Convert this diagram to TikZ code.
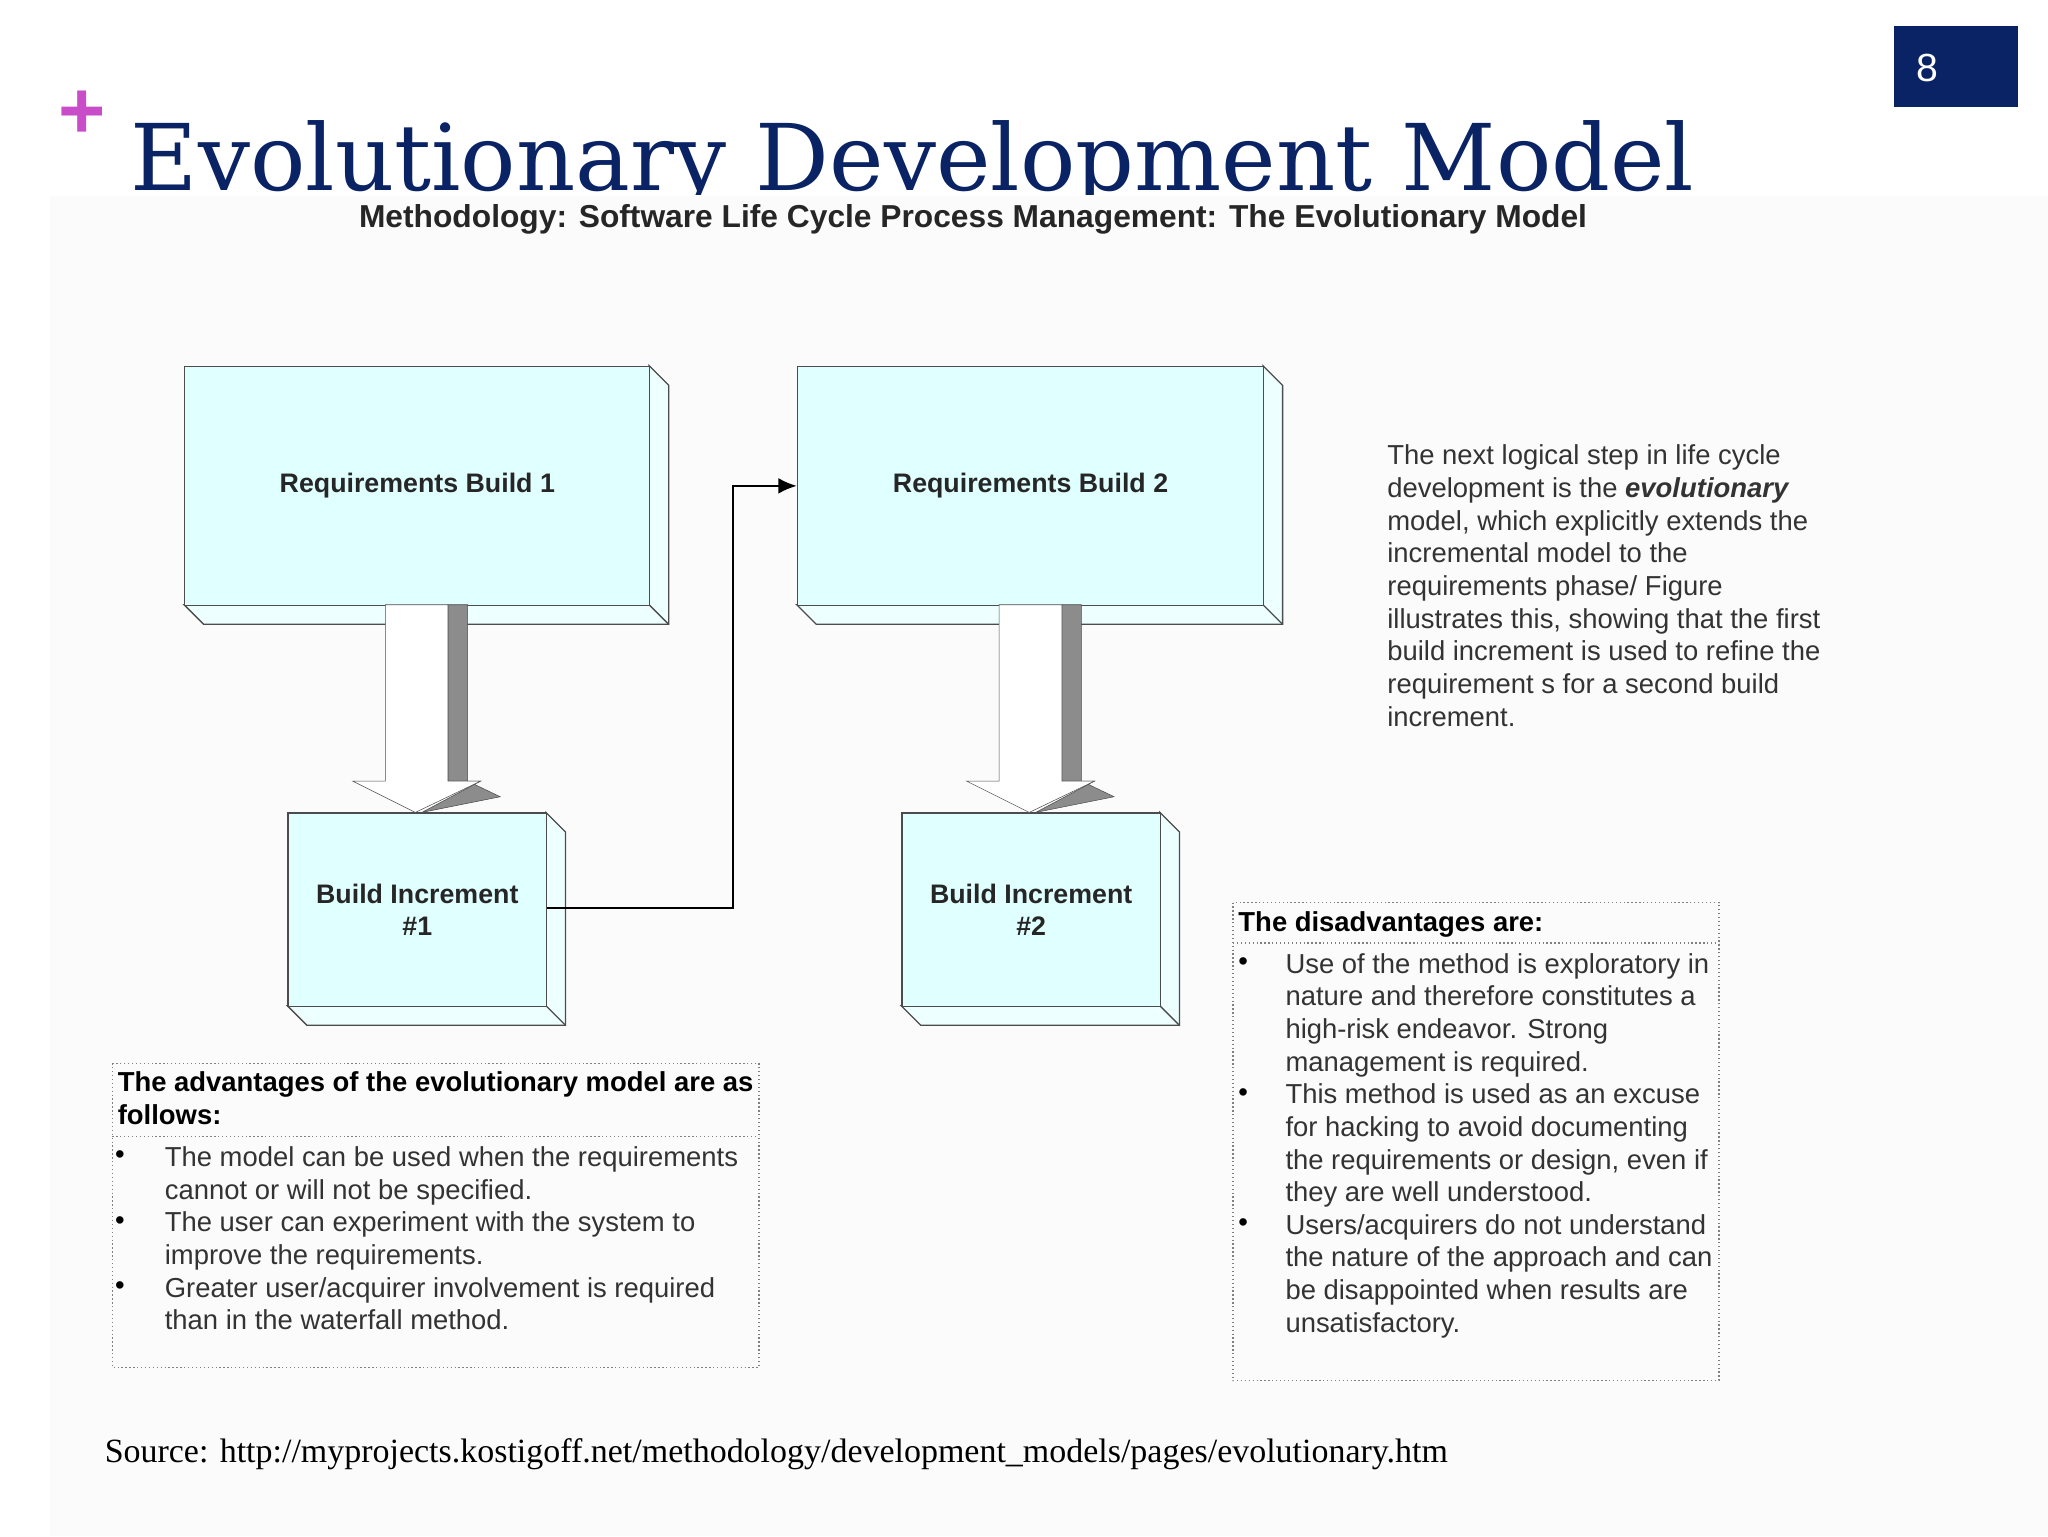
\documentclass[tikz,border=0pt]{standalone}
\usepackage{fontspec}
\usetikzlibrary{arrows.meta}
\setmainfont{Liberation Serif}
\newfontfamily\sans{Liberation Sans}
\newfontfamily\ttl{DejaVu Serif}
\definecolor{boxc}{RGB}{224,255,255}
\definecolor{sidec}{RGB}{238,255,255}
\definecolor{navy}{RGB}{10,35,100}
\begin{document}
\begin{tikzpicture}[x=1pt,y=-1pt,
  box/.style={draw=black!70,fill=boxc,line width=1pt},
  side/.style={draw=black!70,fill=sidec,line width=1pt},
  lbl/.style={font=\sans\bfseries\fontsize{20.5}{25}\selectfont,align=center,text=black!85},
  body/.style={font=\sans\fontsize{21}{25}\selectfont,text=black!80,anchor=base west,inner sep=0},
  dotbox/.style={draw=black!50,dotted,line width=1pt}]
\useasboundingbox (0,0) rectangle (1568,1176);
\fill[white] (0,0) rectangle (1568,1176);
\fill[black!1.5] (38,150) rectangle (1568,1176);
% page number
\fill[navy] (1450,20) rectangle (1545,82);
\node[text=white,font=\sans\fontsize{30}{30}\selectfont] (pg) at (1476,52) {8};
\node[text=violet!60!magenta!70,font=\sans\bfseries\fontsize{62}{62}\selectfont] (plus) at (63,88) {+};
\begin{scope}
\clip (0,0) rectangle (1568,149);
\node[anchor=base west,inner sep=0,text=navy,font=\ttl\fontsize{70.5}{70}\selectfont] (title) at (100,146) {Evolutionary Development Model};
\end{scope}
\node[font=\sans\bfseries\fontsize{24.3}{24.3}\selectfont,text=black!85] (sub) at (745,168) {Methodology: Software Life Cycle Process Management: The Evolutionary Model};
% boxes
\foreach \n/\xa/\ya/\xb/\yb/\t in {rb1/141/280/497/463/{Requirements Build 1},rb2/610/280/967/463/{Requirements Build 2},bi1/220/622/418/770/{Build Increment\\\#1},bi2/690/622/888/770/{Build Increment\\\#2}}{
  \filldraw[side] (\xb,\ya) -- (\xb+15,\ya+15) -- (\xb+15,\yb+15) -- (\xa+15,\yb+15) -- (\xa,\yb) -- (\xb,\yb) -- cycle;
  \draw[black!70,line width=1pt] (\xb,\yb) -- (\xb+15,\yb+15);
  \node[box,minimum width=\xb-\xa,minimum height=\yb-\ya,anchor=north west,inner sep=0,lbl] (\n) at (\xa,\ya) {\t};
}
% block arrows
\foreach \c in {318,788}{
  \filldraw[fill=black!45,draw=black!70] (\c+25,463) -- (\c+40,463) -- (\c+40,598) -- (\c+65,610) -- (\c+5,622) -- (\c+50,598) -- (\c+25,598) -- cycle;
  \filldraw[fill=white,draw=black!70] (\c-23,463) -- (\c+25,463) -- (\c+25,598) -- (\c+50,598) -- (\c,622) -- (\c-48,598) -- (\c-23,598) -- cycle;
}
\draw[line width=1.5pt,-{Latex[length=14pt,width=12pt]}] (bi1.east |- 0,695) -- (561,695) -- (561,372) -- (rb2.west |- 0,372);
% right paragraph
\foreach \l [count=\i] in {The next logical step in life cycle,development is the \textbf{\textit{evolutionary}},{model, which explicitly extends the},incremental model to the,requirements phase/ Figure,{illustrates this, showing that the first},build increment is used to refine the,requirement s for a second build,increment.}
  \node[body] at (1062,331+25*\i) {\l};
% disadvantages
\draw[dotbox] (944,691) rectangle (1316,1057);
\draw[dotbox] (944,722) -- (1316,722);
\node[body,font=\sans\bfseries\fontsize{21}{25}\selectfont,text=black] (dh) at (948,713) {The disadvantages are:};
\foreach \y in {745,845,945} \node[body,text=black,font=\sans\fontsize{21}{21}\selectfont] at (948,\y-2) {•};
\foreach \l [count=\i] in {Use of the method is exploratory in,nature and therefore constitutes a,high-risk endeavor. Strong,management is required.,This method is used as an excuse,for hacking to avoid documenting,{the requirements or design, even if},they are well understood.,Users/acquirers do not understand,the nature of the approach and can,be disappointed when results are,unsatisfactory.}
  \node[body] at (984,720+25*\i) {\l};
% advantages
\draw[dotbox] (86,814) rectangle (581,1047);
\draw[dotbox] (86,870) -- (581,870);
\node[body,font=\sans\bfseries\fontsize{21}{25}\selectfont,text=black] at (90,836) {The advantages of the evolutionary model are as};
\node[body,font=\sans\bfseries\fontsize{21}{25}\selectfont,text=black] at (90,861) {follows:};
\foreach \y in {893,943,993} \node[body,text=black,font=\sans\fontsize{21}{21}\selectfont] at (88,\y-2) {•};
\foreach \l [count=\i] in {The model can be used when the requirements,cannot or will not be specified.,The user can experiment with the system to,improve the requirements.,Greater user/acquirer involvement is required,than in the waterfall method.}
  \node[body] at (126,868+25*\i) {\l};
\node[anchor=base west,inner sep=0,font=\fontsize{26}{26}\selectfont] (src) at (80,1120) {Source: http://myprojects.kostigoff.net/methodology/development\_models/pages/evolutionary.htm};
\end{tikzpicture}
\end{document}
